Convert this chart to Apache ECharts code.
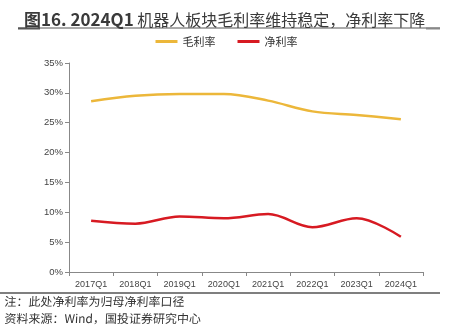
<!DOCTYPE html>
<html><head><meta charset="utf-8">
<script src="https://cdn.jsdelivr.net/npm/echarts@6/dist/echarts.min.js"></script>
<style>html,body{margin:0;padding:0;background:#fff}#c{width:453px;height:334px}</style>
</head><body><div id="c"></div>
<script>
const categories = ['2017Q1','2018Q1','2019Q1','2020Q1','2021Q1','2022Q1','2023Q1','2024Q1'];
const grossMargin = [28.6, 29.5, 29.8, 29.8, 28.7, 26.9, 26.3, 25.6];
const netMargin = [8.6, 8.1, 9.3, 9.0, 9.7, 7.5, 9.0, 5.9];
const seriesNames = ['毛利率', '净利率'];
const titlePrefix = '图16. 2024Q1';
const titleRest = ' 机器人板块毛利率维持稳定，净利率下降';
const note1 = '注：此处净利率为归母净利率口径';
const note2 = '资料来源：Wind，国投证券研究中心';

const chart = echarts.init(document.getElementById('c'), null, {renderer:'canvas'});
const cjk = '"Noto Sans CJK SC", sans-serif';
const num = '"Liberation Sans", sans-serif';
chart.setOption({
  animation: false,
  backgroundColor: '#fff',
  title: {
    text: '{a|' + titlePrefix + '}{b|' + titleRest + '}', left: 19, top: 6,
    textStyle: {
      rich: {
        a: {fontSize: 17, fontWeight: 'bold', color: '#3a3a3a', fontFamily: cjk},
        b: {fontSize: 16, fontWeight: 'normal', color: '#3a3a3a', fontFamily: cjk}
      }
    }
  },
  legend: {
    top: 31, left: 'center', itemWidth: 22, itemHeight: 3, itemGap: 22, icon: 'rect',
    textStyle: {fontSize: 11, color: '#333', fontFamily: cjk},
    data: seriesNames
  },
  grid: {left: 69, right: 30, top: 63, bottom: 62},
  xAxis: {
    type: 'category', data: categories, boundaryGap: true,
    axisLine: {lineStyle: {color: '#888'}},
    axisTick: {show: true, length: 4, interval: 0, lineStyle: {color: '#888'}},
    axisLabel: {interval: 0, fontSize: 9, color: '#444', margin: 8, fontFamily: num}
  },
  yAxis: {
    type: 'value', min: 0, max: 35, interval: 5,
    axisLine: {show: true, lineStyle: {color: '#888'}},
    axisTick: {show: true, length: 4, lineStyle: {color: '#888'}},
    splitLine: {show: false},
    axisLabel: {fontSize: 9.5, color: '#444', margin: 6, formatter: '{value}%', fontFamily: num}
  },
  series: [
    {name: seriesNames[0], type: 'line', data: grossMargin, smooth: 0.35, symbol: 'none',
     lineStyle: {width: 2.5, color: '#ECB73A'}, itemStyle: {color: '#ECB73A'}},
    {name: seriesNames[1], type: 'line', data: netMargin, smooth: 0.35, symbol: 'none',
     lineStyle: {width: 2.5, color: '#D71A22'}, itemStyle: {color: '#D71A22'}}
  ],
  graphic: [
    {type: 'line', shape: {x1: 18, y1: 28, x2: 440, y2: 28}, style: {stroke: '#555', lineWidth: 1}},
    {type: 'line', shape: {x1: 18, y1: 28.5, x2: 40, y2: 28.5}, style: {stroke: '#555', lineWidth: 2}},
    {type: 'line', shape: {x1: 426, y1: 28.5, x2: 440, y2: 28.5}, style: {stroke: '#888', lineWidth: 2}},
    {type: 'line', shape: {x1: 0, y1: 293, x2: 440, y2: 293}, style: {stroke: '#555', lineWidth: 1.5}},
    {type: 'text', x: 2, y: 295, skewX: 0.2, style: {text: note1, fill: '#333', font: 'italic 12px "Noto Sans CJK SC", sans-serif'}},
    {type: 'text', x: 2, y: 312, skewX: 0.2, style: {text: note2, fill: '#333', font: 'italic 12px "Noto Sans CJK SC", sans-serif'}}
  ]
});
</script></body></html>
